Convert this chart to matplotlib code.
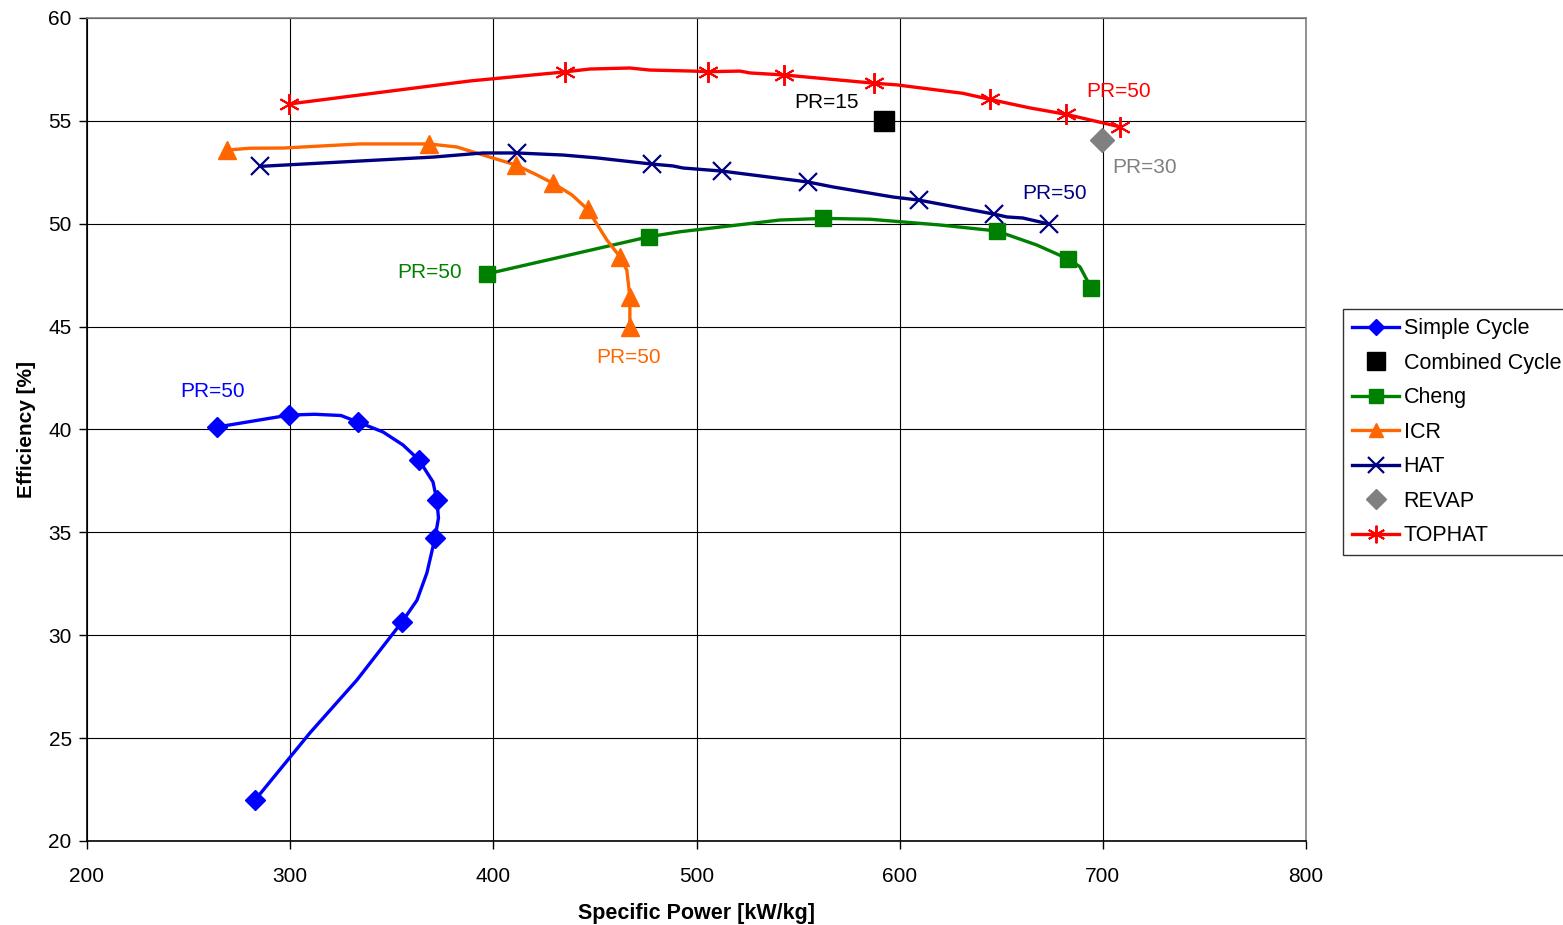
import matplotlib
matplotlib.use("Agg")
import matplotlib.pyplot as plt

plt.rcParams['font.family'] = ['Liberation Sans', 'DejaVu Sans']

# ---------------- data ----------------
# flags: 1 = point carries a marker, 0 = line-only point
simple_x = [264.0, 299.4, 312.0, 325.0, 333.4, 345.7, 355.5, 363.4, 370.3, 372.2, 373.0, 371.3, 367.3, 362.4, 355.0, 332.9, 309.7, 282.7]
simple_y = [40.12, 40.70, 40.74, 40.68, 40.36, 39.88, 39.25, 38.52, 37.45, 36.57, 35.70, 34.73, 33.03, 31.70, 30.64, 27.83, 25.25, 21.99]
simple_m = [1, 1, 0, 0, 1, 0, 0, 1, 0, 1, 0, 1, 0, 0, 1, 0, 0, 1]

combined_x = [592.2]
combined_y = [55.0]

cheng_x = [396.7, 476.7, 491.8, 541.0, 562.4, 585.3, 619.8, 647.7, 667.4, 682.9, 688.7, 694.4]
cheng_y = [47.56, 49.37, 49.61, 50.18, 50.26, 50.22, 49.94, 49.65, 48.97, 48.29, 47.91, 46.86]
cheng_m = [1, 1, 0, 0, 1, 0, 0, 1, 0, 1, 0, 1]

icr_x = [268.9, 280.0, 296.5, 334.4, 368.3, 382.1, 394.9, 411.0, 421.5, 429.5, 438.7, 446.4, 455.9, 462.3, 465.7, 467.2, 467.2]
icr_y = [53.58, 53.67, 53.68, 53.88, 53.88, 53.73, 53.34, 52.86, 52.37, 51.96, 51.40, 50.70, 49.21, 48.40, 47.75, 46.45, 45.00]
icr_m = [1, 0, 0, 0, 1, 0, 0, 1, 0, 1, 0, 1, 0, 1, 0, 1, 1]

hat_x = [285.3, 370.3, 394.9, 411.6, 434.3, 451.0, 478.1, 488.4, 493.3, 512.5, 554.8, 567.1, 596.7, 609.4, 646.4, 652.8, 660.6, 673.4]
hat_y = [52.79, 53.24, 53.44, 53.44, 53.34, 53.20, 52.90, 52.81, 52.71, 52.56, 52.03, 51.79, 51.30, 51.15, 50.47, 50.33, 50.28, 49.99]
hat_m = [1, 0, 0, 1, 0, 0, 1, 0, 0, 1, 1, 0, 0, 1, 1, 0, 0, 1]

revap_x = [699.5]
revap_y = [54.07]

tophat_x = [299.4, 334.4, 388.5, 435.2, 447.5, 467.2, 477.0, 498.2, 505.8, 521.4, 526.3, 543.2, 587.5, 598.6, 631.1, 644.6, 664.1, 681.8, 708.4]
tophat_y = [55.82, 56.26, 56.94, 57.38, 57.52, 57.57, 57.47, 57.42, 57.39, 57.42, 57.33, 57.23, 56.83, 56.75, 56.34, 56.04, 55.63, 55.32, 54.71]
tophat_m = [1, 0, 0, 1, 0, 0, 0, 0, 1, 0, 0, 1, 1, 0, 0, 1, 0, 1, 1]

# annotations: (text, x, y, colour)
labels = [
    ("PR=50", 262.0, 41.87, "#0000FF"),
    ("PR=50", 707.9, 56.45, "#FF0000"),
    ("PR=15", 564.2, 55.87, "#000000"),
    ("PR=30", 720.7, 52.71, "#808080"),
    ("PR=50", 676.4, 51.49, "#000080"),
    ("PR=50", 368.8, 47.61, "#008000"),
    ("PR=50", 466.7, 43.52, "#FF6600"),
]

x_ticks = [200, 300, 400, 500, 600, 700, 800]
y_ticks = [20, 25, 30, 35, 40, 45, 50, 55, 60]

# ---------------- plot ----------------
fig = plt.figure(figsize=(15.63, 9.25), dpi=100)
ax = fig.add_axes([87 / 1563, 1 - 841 / 925, (1306 - 87) / 1563, (841 - 18) / 925])

def idx(flags):
    return [i for i, f in enumerate(flags) if f]

lw = 2.4
ax.plot(simple_x, simple_y, color="#0000FF", lw=lw, marker="D", ms=10,
        markevery=idx(simple_m), label="Simple Cycle", zorder=3)
ax.plot(combined_x, combined_y, ls="none", color="#000000", marker="s", ms=15,
        label="Combined Cycle", zorder=3)
ax.plot(cheng_x, cheng_y, color="#008000", lw=lw, marker="s", ms=11.5,
        markevery=idx(cheng_m), label="Cheng", zorder=3)
ax.plot(icr_x, icr_y, color="#FF6600", lw=lw, marker="^", ms=12.5,
        markevery=idx(icr_m), label="ICR", zorder=3)
ax.plot(hat_x, hat_y, color="#000080", lw=lw, marker="x", ms=13, mew=1.6,
        markevery=idx(hat_m), label="HAT", zorder=3)
ax.plot(revap_x, revap_y, ls="none", color="#808080", marker="D", ms=12,
        label="REVAP", zorder=3)
ax.plot(tophat_x, tophat_y, color="#FF0000", lw=lw, marker=(6, 2, 0), ms=15, mew=1.4,
        markevery=idx(tophat_m), label="TOPHAT", zorder=3)

for t, x, y, c in labels:
    ax.text(x, y, t, color=c, fontsize=15, ha="center", va="center", zorder=4)

ax.set_xlim(200, 800)
ax.set_ylim(20, 60)
ax.set_xticks(x_ticks)
ax.set_yticks(y_ticks)
ax.grid(True, color="#000000", lw=0.8, zorder=0)
ax.set_axisbelow(True)
ax.tick_params(axis="both", direction="out", length=6, width=1, labelsize=15, pad=5)
ax.tick_params(axis="x", pad=13)
for s in ("left", "bottom"):
    ax.spines[s].set_color("#000000")
    ax.spines[s].set_linewidth(1.2)
for s in ("right", "top"):
    ax.spines[s].set_color("#808080")
    ax.spines[s].set_linewidth(1.2)

ax.set_xlabel("Specific Power [kW/kg]", fontsize=15.5, fontweight="bold", labelpad=12)
ax.set_ylabel("Efficiency [%]", fontsize=15, fontweight="bold", labelpad=9)

leg = fig.legend(loc="upper left", bbox_to_anchor=(1343 / 1563, 1 - 309 / 925),
                 fontsize=15.5, frameon=True, fancybox=False, edgecolor="#000000",
                 borderpad=0.42, labelspacing=0.63, handlelength=2.2, handletextpad=0.2,
                 borderaxespad=0, markerscale=0.85)
leg.get_frame().set_linewidth(1.0)

fig.savefig("out.png", dpi=100)
